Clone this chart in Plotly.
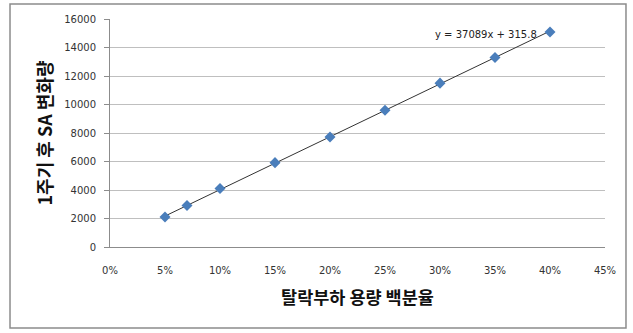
import plotly.graph_objects as go

x_vals = [0.05, 0.07, 0.10, 0.15, 0.20, 0.25, 0.30, 0.35, 0.40]
y_vals = [2100, 2910, 4100, 5920, 7720, 9590, 11500, 13300, 15090]
slope = 37089
intercept = 315.8
trend_x = [0.05, 0.40]
trend_y = [slope * v + intercept for v in trend_x]
x_ticks = [0, 0.05, 0.10, 0.15, 0.20, 0.25, 0.30, 0.35, 0.40, 0.45]
x_ticktext = ["0%", "5%", "10%", "15%", "20%", "25%", "30%", "35%", "40%", "45%"]
y_ticks = [0, 2000, 4000, 6000, 8000, 10000, 12000, 14000, 16000]
y_ticktext = ["0", "2000", "4000", "6000", "8000", "10000", "12000", "14000", "16000"]

fig = go.Figure()
fig.add_trace(go.Scatter(x=trend_x, y=trend_y, mode="lines",
                         line=dict(color="#333333", width=1), showlegend=False))
fig.add_trace(go.Scatter(x=x_vals, y=y_vals, mode="markers",
                         marker=dict(symbol="diamond", size=8.5, color="#4a7ebb",
                                     line=dict(color="#4a7ebb", width=0)),
                         showlegend=False))

fig.add_annotation(x=0.40, y=15100, xref="x", yref="y",
                   text="y = 37089x + 315.8", showarrow=False,
                   xanchor="right", yanchor="middle", xshift=-11, yshift=-3,
                   font=dict(family="DejaVu Sans", size=10, color="#222222"))

fig.add_shape(type="rect", xref="paper", yref="paper",
              x0=-0.202, x1=1.0424, y0=-0.355, y1=1.0658,
              line=dict(color="#8c8c8c", width=1.5), fillcolor="rgba(0,0,0,0)")

fig.update_layout(
    width=633, height=333,
    margin=dict(l=110, r=28, t=19, b=86),
    paper_bgcolor="white", plot_bgcolor="white",
    font=dict(family="Noto Sans CJK KR", color="#333333"),
    xaxis=dict(range=[0, 0.45], tickvals=x_ticks, ticktext=x_ticktext,
               showgrid=False, showline=True, linecolor="#8c8c8c", linewidth=1,
               ticks="", ticklabelstandoff=14,
               tickfont=dict(family="DejaVu Sans", size=10, color="#333333"),
               title=dict(text="<b>탈락부하 용량 백분율</b>", standoff=16,
                          font=dict(family="Noto Sans CJK KR", size=17.5, color="#111111")),
               zeroline=False, fixedrange=True),
    yaxis=dict(range=[0, 16000], tickvals=y_ticks, ticktext=y_ticktext,
               showgrid=True, gridcolor="#bfbfbf", gridwidth=1,
               showline=True, linecolor="#8c8c8c", linewidth=1,
               ticks="outside", ticklen=5, tickcolor="#8c8c8c", ticklabelstandoff=6,
               tickfont=dict(family="DejaVu Sans", size=10, color="#333333"),
               title=dict(text="<b>1주기 후 SA 변화량</b>", standoff=6,
                          font=dict(family="Noto Sans CJK KR", size=18, color="#111111")),
               zeroline=False, fixedrange=True),
)

fig.write_html("out.html")
